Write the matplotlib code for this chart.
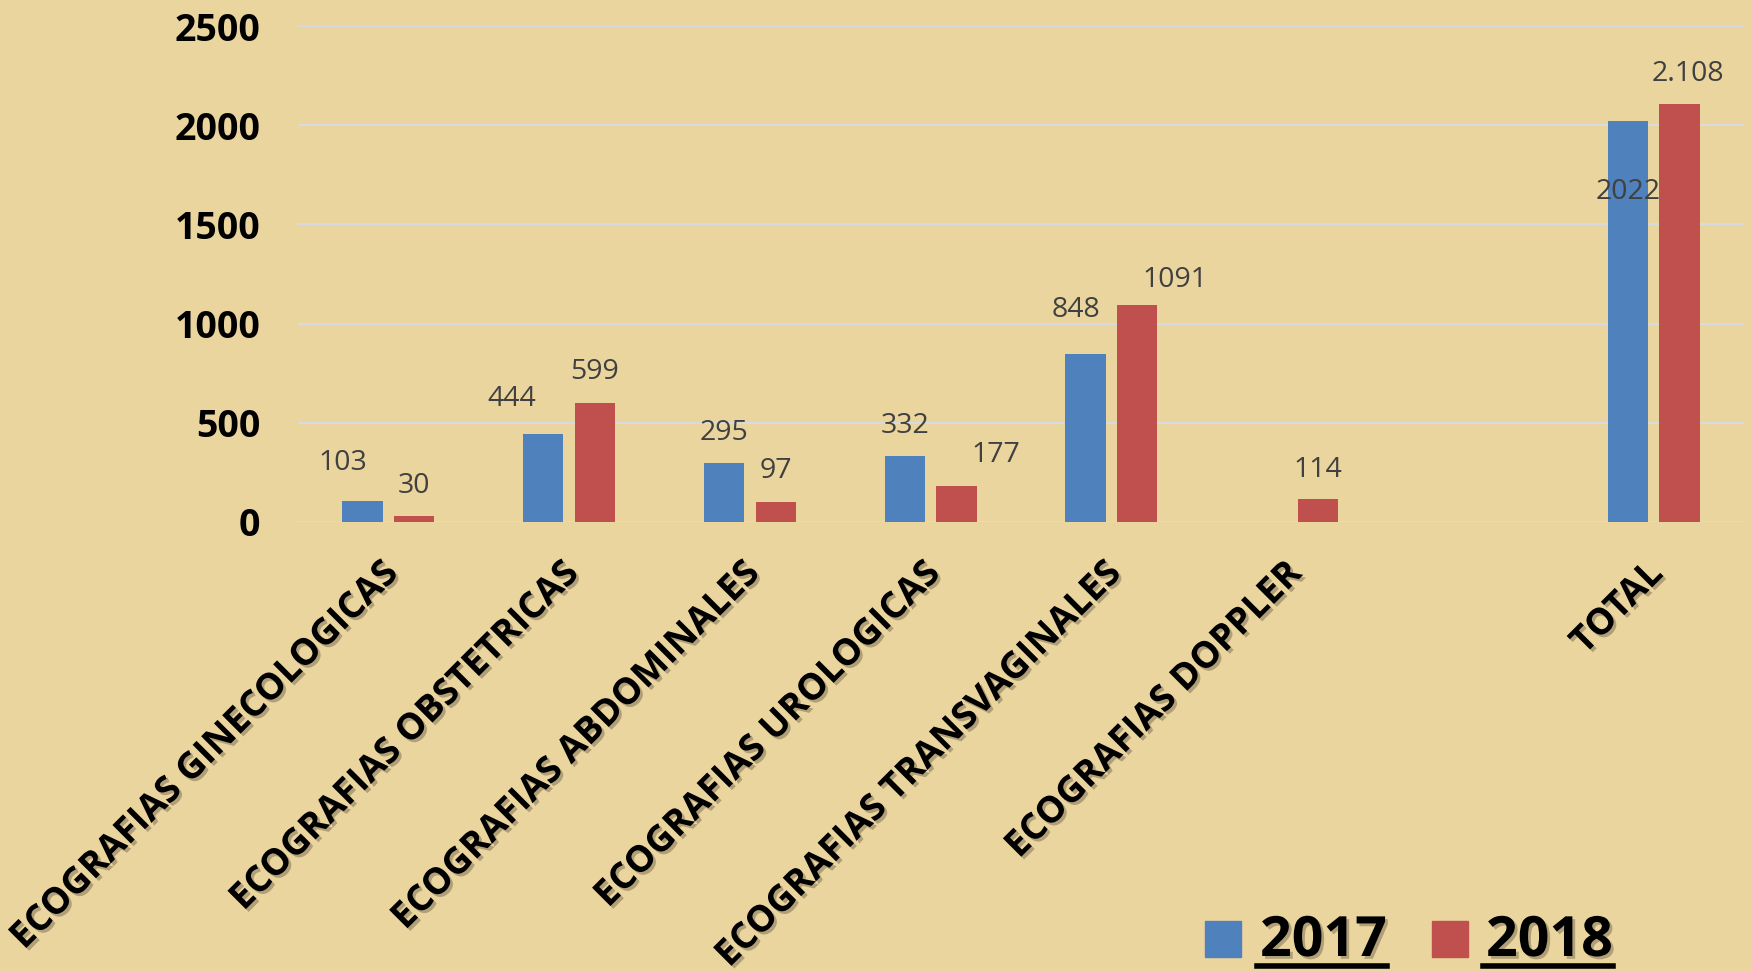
"""Ecografias 2017 vs 2018 - grouped bar chart."""

import matplotlib

matplotlib.use("Agg")
import matplotlib.patheffects as pe
import matplotlib.pyplot as plt
import numpy as np
from matplotlib.lines import Line2D
from matplotlib.patches import Rectangle

plt.rcParams["font.family"] = ["Open Sans", "DejaVu Sans"]

# data
categories = [
    "ECOGRAFIAS GINECOLOGICAS",
    "ECOGRAFIAS OBSTETRICAS",
    "ECOGRAFIAS ABDOMINALES",
    "ECOGRAFIAS UROLOGICAS",
    "ECOGRAFIAS TRANSVAGINALES",
    "ECOGRAFIAS DOPPLER",
    "",
    "TOTAL",
]
values_2017 = [103, 444, 295, 332, 848, None, None, 2022]
values_2018 = [30, 599, 97, 177, 1091, 114, None, 2108]
years = ["2017", "2018"]
y_ticks = [0, 500, 1000, 1500, 2000, 2500]

# styling / layout
W, H = 1752, 972
BG = "#EBD59F"
BLUE = "#4F81BD"
RED = "#C0504D"
LABEL_COLOR = "#404040"
GRID = "#D6DCE4"
BAR_W = 0.223
OFFSET = 0.1427

# data label offsets from bar top (pixels, dx / dy)
lab_off_2017 = [(-20, 38), (-32, 35), (0, 30), (0, 30), (-10, 44), None, None, (0, -71)]
lab_off_2018 = [(0, 30), (0, 31), (0, 31), (39, 31), (38, 25), (0, 29), None, (9, 30)]

fig = plt.figure(figsize=(W / 100, H / 100), dpi=100)
fig.patch.set_facecolor(BG)

left, right = 298, 1744
y0, y1 = 521.5, 26.5
ax = fig.add_axes([left / W, (H - y0) / H, (right - left) / W, (y0 - y1) / H])
ax.set_facecolor("none")

x = np.arange(len(categories))


def draw_series(vals, shift, color, offs, fmt):
    idx = [i for i, v in enumerate(vals) if v is not None]
    ax.bar(x[idx] + shift, [vals[i] for i in idx], width=BAR_W, color=color,
           zorder=3)
    for i in idx:
        dx, dy = offs[i]
        ax.annotate(fmt(i, vals[i]), xy=(x[i] + shift, vals[i]), xytext=(dx, dy),
                    textcoords="offset pixels", ha="center", va="center",
                    fontsize=20.5, color=LABEL_COLOR, zorder=4)


draw_series(values_2017, -OFFSET, BLUE, lab_off_2017, lambda i, v: str(v))
draw_series(values_2018, OFFSET, RED, lab_off_2018,
            lambda i, v: f"{v:,}".replace(",", ".") if categories[i] == "TOTAL" else str(v))

ax.set_xlim(-0.5, len(categories) - 0.5)
ax.set_ylim(0, 2500)
ax.set_yticks(y_ticks)
ax.set_yticklabels([str(t) for t in y_ticks], fontsize=27, fontweight="bold")
ax.yaxis.grid(True, color=GRID, lw=1.4, zorder=0)
ax.set_axisbelow(True)
for s in ax.spines.values():
    s.set_visible(False)
ax.tick_params(axis="y", length=0, pad=27)
ax.tick_params(axis="x", length=0, pad=24)

ax.set_xticks(x - 0.055)
ax.set_xticklabels(categories, rotation=45, ha="right", va="top",
                   rotation_mode="anchor", fontsize=26.3, fontweight="bold")
shadow = [pe.SimplePatchShadow(offset=(2, -2), shadow_rgbFace="#000000", alpha=0.25),
          pe.Normal()]
for lbl in ax.get_xticklabels():
    lbl.set_path_effects(shadow)

# legend drawn by hand (big underlined year labels)
leg = [(1205, 1260, 1387, BLUE), (1432, 1486, 1613, RED)]
for (sx, tx, ux, col), yr in zip(leg, years):
    fig.patches.append(Rectangle((sx / W, 1 - 957 / H), 36 / W, 36 / H,
                                 transform=fig.transFigure, color=col))
    fig.text(tx / W, 1 - 956 / H, yr, fontsize=40, fontweight="bold",
             ha="left", va="baseline", color="black", path_effects=shadow)
    fig.lines.append(Line2D([(tx - 3) / W, ux / W], [1 - 966 / H, 1 - 966 / H],
                            transform=fig.transFigure, color="black", lw=4))

fig.savefig("out.png", dpi=100, facecolor=fig.get_facecolor())
